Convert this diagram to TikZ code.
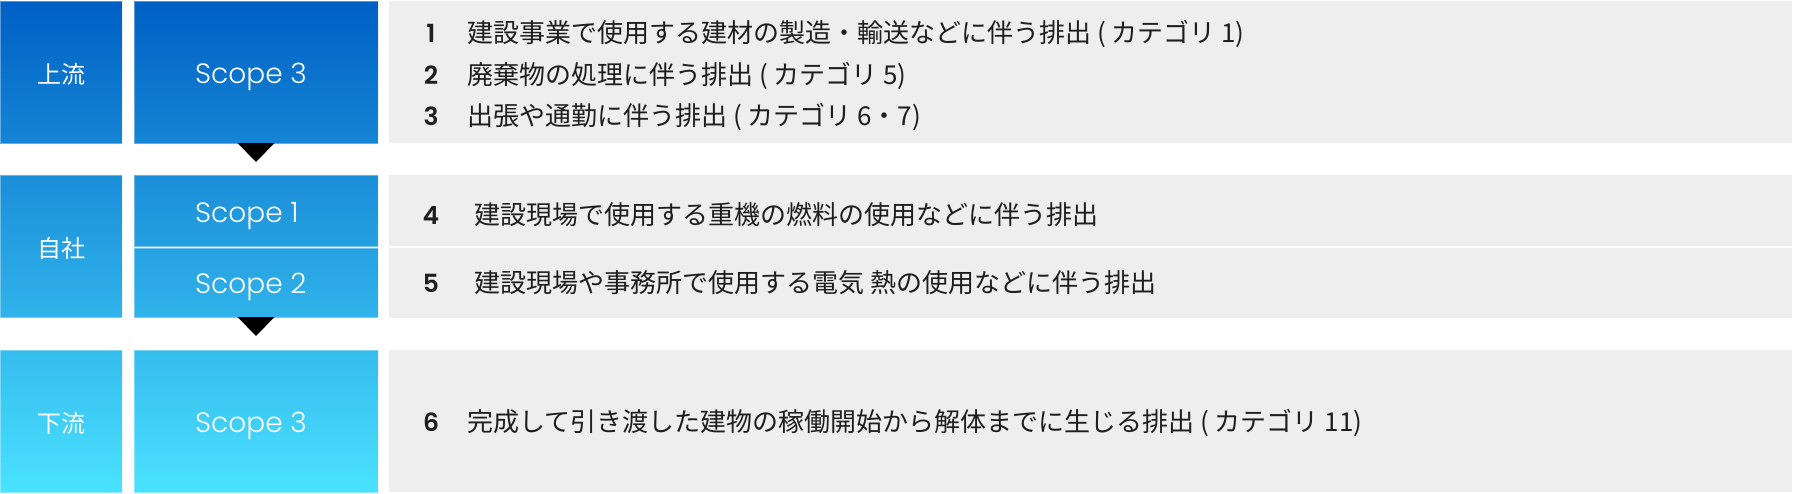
\documentclass[tikz,border=0pt]{standalone}
\usepackage{fontspec}
\setmainfont{Poppins}
\newfontfamily\jp{Noto Sans CJK JP}
\IfFontExistsTF{Poppins Light}{\newfontfamily\scopefont{Poppins Light}}{\newfontfamily\scopefont{Poppins}}
\IfFontExistsTF{Poppins SemiBold}{\newfontfamily\numfont{Poppins SemiBold}}{\newfontfamily\numfont{Poppins}[BoldFont=*, FakeBold=2]}
\definecolor{gbox}{HTML}{EEEEEE}
\definecolor{txt}{HTML}{1E1E1E}
\definecolor{ca}{RGB}{0,95,196}
\definecolor{cb}{RGB}{21,133,213}
\definecolor{cc}{RGB}{26,142,217}
\definecolor{cd}{RGB}{37,160,225}
\definecolor{ce}{RGB}{37,161,226}
\definecolor{cf}{RGB}{48,179,234}
\definecolor{cg}{RGB}{53,188,238}
\definecolor{ch}{RGB}{74,226,255}
\begin{document}
\begin{tikzpicture}[x=1pt,y=-1pt,
  box/.style={anchor=north west,inner sep=0pt,outer sep=0pt,draw=white,draw opacity=0.35,line width=0.8pt},
  graybox/.style={anchor=north west,inner sep=0pt,outer sep=0pt,fill=gbox},
  lbl/.style={text=white,font=\jp\fontsize{24}{28}\selectfont,yshift=-2pt},
  scp/.style={text=white,font=\scopefont\fontsize{28}{32}\selectfont,text depth=0pt,inner sep=0pt,anchor=west},
  num/.style={text=txt,font=\numfont\fontsize{25}{29}\selectfont,anchor=base,inner sep=0pt},
  desc/.style={text=txt,font=\jp\fontsize{26}{30}\selectfont,anchor=west,inner sep=0pt},
  tri/.style={fill=black}
]
\useasboundingbox (0,0) rectangle (1793,493);
% upstream row
\node[box,minimum width=122pt,minimum height=142pt,top color=ca,bottom color=cb] (up) at (0,1) {};
\node[lbl] (upL) at (up.center) {上流};
\node[box,minimum width=244pt,minimum height=142pt,top color=ca,bottom color=cb] (upS) at (134,1) {};
\node[scp] (upSL) at (195,73) {Scope 3};
\node[graybox,minimum width=1403pt,minimum height=142pt] (upG) at (389,1) {};
% own company row
\node[box,minimum width=122pt,minimum height=142pt,top color=cc,bottom color=cf] (mid) at (0,175) {};
\node[lbl] (midL) at (mid.center) {自社};
\node[box,minimum width=244pt,minimum height=71pt,top color=cc,bottom color=cd] (s1) at (134,175) {};
\node[scp] (s1L) at (195,212) {Scope 1};
\node[box,minimum width=244pt,minimum height=69pt,top color=ce,bottom color=cf] (s2) at (134,248) {};
\node[scp] (s2L) at (195,283.5) {Scope 2};
\node[graybox,minimum width=1403pt,minimum height=71pt] (g4) at (389,175) {};
\node[graybox,minimum width=1403pt,minimum height=70pt] (g5) at (389,248) {};
% downstream row
\node[box,minimum width=122pt,minimum height=142pt,top color=cg,bottom color=ch] (down) at (0,350) {};
\node[lbl] (downL) at (down.center) {下流};
\node[box,minimum width=244pt,minimum height=142pt,top color=cg,bottom color=ch] (downS) at (134,350) {};
\node[scp] (downSL) at (195,422) {Scope 3};
\node[graybox,minimum width=1403pt,minimum height=142pt] (g6) at (389,350) {};
% texts
\node[desc] (t1) at (467,34) {建設事業で使用する建材の製造・輸送などに伴う排出 ( カテゴリ 1)};
\node[num] (n1) at ([xshift=-36pt]t1.base west) {1};
\node[desc] (t2) at (467,76) {廃棄物の処理に伴う排出 ( カテゴリ 5)};
\node[num] (n2) at ([xshift=-36pt]t2.base west) {2};
\node[desc] (t3) at (467,117) {出張や通勤に伴う排出 ( カテゴリ 6・7)};
\node[num] (n3) at ([xshift=-36pt]t3.base west) {3};
\node[desc] (t4) at (474,215) {建設現場で使用する重機の燃料の使用などに伴う排出};
\node[num] (n4) at ([xshift=-43pt]t4.base west) {4};
\node[desc] (t5) at (474,283) {建設現場や事務所で使用する電気 熱の使用などに伴う排出};
\node[num] (n5) at ([xshift=-43pt]t5.base west) {5};
\node[desc] (t6) at (467,422.5) {完成して引き渡した建物の稼働開始から解体までに生じる排出 ( カテゴリ 11)};
\node[num] (n6) at ([xshift=-36pt]t6.base west) {6};
% arrows (triangles)
\fill[tri] ([xshift=-18.5pt]upS.south) -- ([xshift=18.5pt]upS.south) -- ([yshift=-19pt]upS.south) -- cycle;
\fill[tri] ([xshift=-18.5pt]s2.south) -- ([xshift=18.5pt]s2.south) -- ([yshift=-19pt]s2.south) -- cycle;
\end{tikzpicture}
\end{document}
